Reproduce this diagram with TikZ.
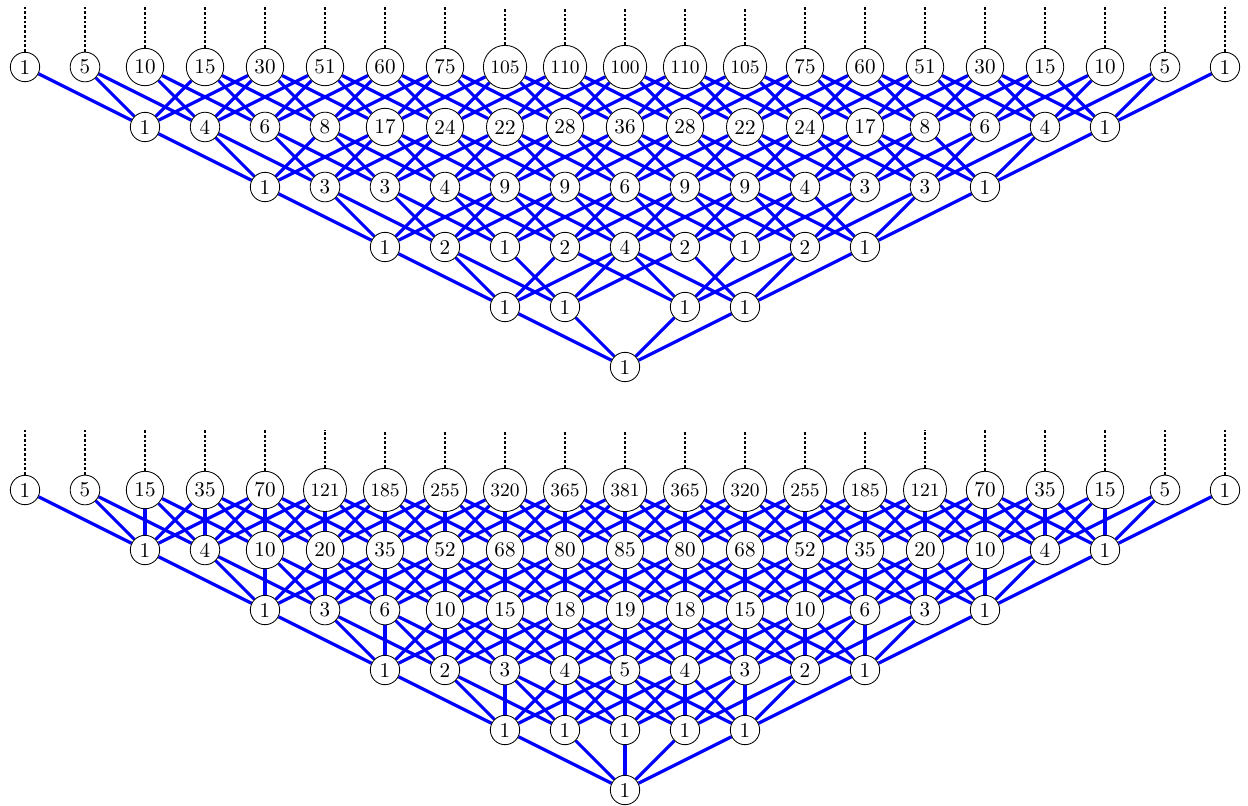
\documentclass[tikz,border=0pt]{standalone}
\usetikzlibrary{backgrounds}

\begin{document}
\begin{tikzpicture}[
    num/.style={circle,draw,fill=white,inner sep=2pt},
    link/.style={blue,line width=1.5pt},
    more/.style={line width=1.3pt,dash pattern=on 1.3pt off 0.95pt}
  ]
  \useasboundingbox (-10.417,-0.25) rectangle (10.383,13.167);

  % upper diagram, steps -2,-1,+1,+2
  \node[num] (t0-0) at (0,7.05) {1};
  \foreach \i in {0,1,3,4}
    \node[num] (t1-\i) at (\i-2,8.05) {1};
  \foreach \n/\vals in {2/{1,2,1,2,4,2,1,2,1},
      3/{1,3,3,4,9,9,6,9,9,4,3,3,1},
      4/{1,4,6,8,17,24,22,28,36,28,22,24,17,8,6,4,1},
      5/{1,5,10,15,30,51,60,75,105,110,100,110,105,75,60,51,30,15,10,5,1}}
    \foreach \v [count=\i from 0] in \vals
      \node[num] (t\n-\i) at ({\i-2*\n},{7.05+\n}) {\ifnum\v>99 \small\fi\v};

  % lower diagram, steps -2,...,+2
  \foreach \n/\vals in {0/{1},
      1/{1,1,1,1,1},
      2/{1,2,3,4,5,4,3,2,1},
      3/{1,3,6,10,15,18,19,18,15,10,6,3,1},
      4/{1,4,10,20,35,52,68,80,85,80,68,52,35,20,10,4,1},
      5/{1,5,15,35,70,121,185,255,320,365,381,365,320,255,185,121,70,35,15,5,1}}
    \foreach \v [count=\i from 0] in \vals
      \node[num] (b\n-\i) at ({\i-2*\n},\n) {\ifnum\v>99 \small\fi\v};

  \begin{scope}[on background layer]
    \foreach \n in {0,...,4} {
      \pgfmathtruncatemacro\m{\n+1}
      \pgfmathtruncatemacro\last{4*\n}
      \foreach \i in {0,...,\last} {
        \ifnum\n\i=12 \else
          \foreach \d in {0,1,3,4} {
            \pgfmathtruncatemacro\j{\i+\d}
            \draw[link] (t\n-\i) -- (t\m-\j);
          }
        \fi
        \foreach \d in {0,...,4} {
          \pgfmathtruncatemacro\j{\i+\d}
          \draw[link] (b\n-\i) -- (b\m-\j);
        }
      }
    }
  \end{scope}

  % the diagrams go on upward
  \foreach \i in {0,...,20} {
    \coordinate (tu-\i) at (\i-10,13.05);
    \coordinate (bu-\i) at (\i-10,6);
    \draw[more] (t5-\i) -- (tu-\i);
    \draw[more] (b5-\i) -- (bu-\i);
  }
\end{tikzpicture}
\end{document}
